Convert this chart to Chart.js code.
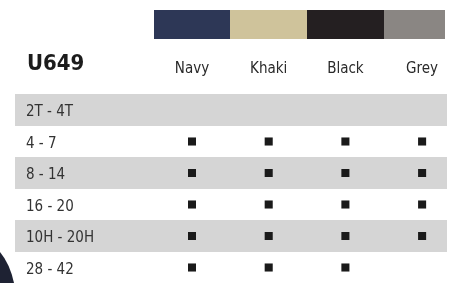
<!DOCTYPE html>
<html><head><meta charset="utf-8">
<script src="https://cdn.jsdelivr.net/npm/chart.js@4"></script>
<style>html,body{margin:0;padding:0;background:#fff;overflow:hidden}#wrap{width:451px;height:283px;position:relative}</style>
</head><body><div id="wrap"><canvas id="c"></canvas></div>
<script>
const title = 'U649';
const colorNames = ['Navy', 'Khaki', 'Black', 'Grey'];
const swatchColors = ['#2d3756', '#cfc39b', '#241f21', '#8a8683'];
const sizes = ['2T - 4T', '4 - 7', '8 - 14', '16 - 20', '10H - 20H', '28 - 42'];
const navy  = [0, 1, 1, 1, 1, 1];
const khaki = [0, 1, 1, 1, 1, 1];
const black = [0, 1, 1, 1, 1, 1];
const grey  = [0, 1, 1, 1, 1, 0];
const availability = [navy, khaki, black, grey];

const points = [];
availability.forEach((col, c) => col.forEach((v, r) => { if (v) points.push({x: c + 1, y: r}); }));

const FONT = '"DejaVu Sans Condensed", "Liberation Sans Narrow", sans-serif';

const tablePlugin = {
  id: 'table',
  beforeDatasetsDraw(chart) {
    const ctx = chart.ctx, xs = chart.scales.x, ys = chart.scales.y;
    ctx.save();
    // alternating bands
    ctx.fillStyle = '#d5d5d5';
    sizes.forEach((s, r) => {
      if (r % 2 === 0) {
        const t = ys.getPixelForValue(r - 0.5), b = ys.getPixelForValue(r + 0.5);
        ctx.fillRect(15, Math.round(t), 447 - 15, Math.round(b) - Math.round(t));
      }
    });
    // swatches
    const st = ys.getPixelForValue(-3.17), sb = ys.getPixelForValue(-2.25);
    colorNames.forEach((n, c) => {
      const l = xs.getPixelForValue(c + 0.5);
      const rr = Math.min(xs.getPixelForValue(c + 1.5), 445);
      ctx.fillStyle = swatchColors[c];
      ctx.fillRect(Math.round(l), Math.round(st), Math.round(rr) - Math.round(l), Math.round(sb - st));
    });
    // header labels
    const hy = ys.getPixelForValue(-1.18);
    ctx.fillStyle = '#2a2a2a';
    ctx.font = '15px ' + FONT;
    ctx.textAlign = 'center';
    ctx.textBaseline = 'alphabetic';
    colorNames.forEach((n, c) => ctx.fillText(n, xs.getPixelForValue(c + 1), hy));
    // title
    ctx.fillStyle = '#1c1c1c';
    ctx.font = 'bold 22px ' + FONT;
    ctx.textAlign = 'left';
    ctx.fillText(title, 27, ys.getPixelForValue(-1.27));
    // row labels
    ctx.fillStyle = '#333333';
    ctx.font = '15px ' + FONT;
    sizes.forEach((s, r) => ctx.fillText(s, 26, ys.getPixelForValue(r) + 6));
    // garment edge bottom-left
    ctx.fillStyle = '#1e2233';
    ctx.beginPath();
    ctx.moveTo(0, 252);
    ctx.quadraticCurveTo(10, 264, 14, 283);
    ctx.lineTo(0, 283);
    ctx.closePath();
    ctx.fill();
    ctx.restore();
  }
};

new Chart(document.getElementById('c'), {
  type: 'scatter',
  data: { datasets: [{
    data: points,
    pointStyle: 'rect',
    pointRadius: 5.7,
    pointHoverRadius: 5.7,
    backgroundColor: '#1a1a1a',
    borderColor: '#1a1a1a',
    borderWidth: 0
  }]},
  options: {
    responsive: true,
    maintainAspectRatio: false,
    animation: false,
    layout: { padding: 0, autoPadding: false },
    plugins: { legend: { display: false }, tooltip: { enabled: false } },
    scales: {
      x: { type: 'linear', display: false, min: 1 - 192 / 76.7, max: 4 + (451 - 422.1) / 76.7 },
      y: { type: 'linear', display: false, reverse: true, min: -110 / 31.5, max: (283 - 110) / 31.5 }
    }
  },
  plugins: [tablePlugin]
});
</script>
</body></html>
